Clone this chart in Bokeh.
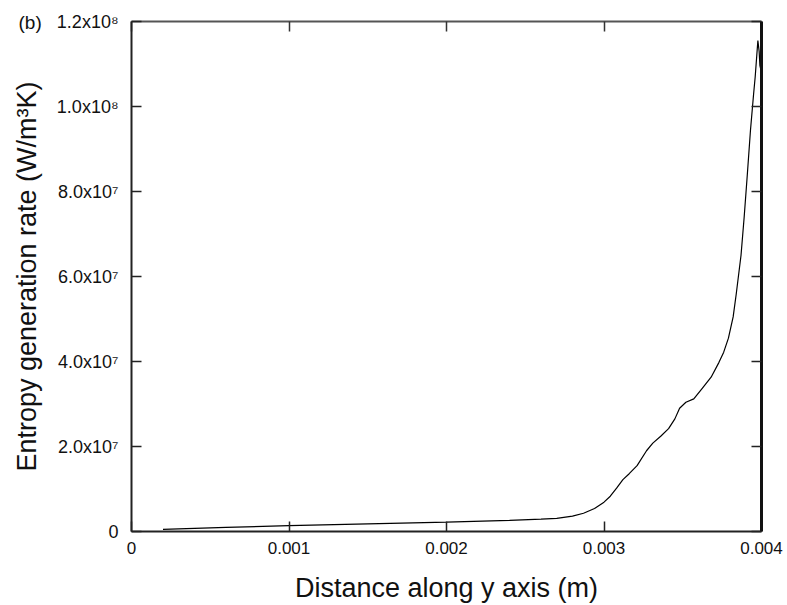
from bokeh.plotting import figure
from bokeh.models import LinearAxis, FixedTicker, Range1d, Title
from bokeh.embed import file_html
from bokeh.resources import INLINE

# Data
distance_m = [0.0002, 0.0006, 0.001, 0.0015, 0.002, 0.0024, 0.0026, 0.0027,
              0.0028, 0.00287, 0.00294, 0.0030, 0.00304, 0.00308, 0.00312,
              0.00316, 0.00321, 0.00327, 0.00331, 0.00336, 0.00341, 0.00345,
              0.00348, 0.00352, 0.00357, 0.00362, 0.00368, 0.00373, 0.00376,
              0.00379, 0.00382, 0.00384, 0.00387, 0.00389, 0.00391, 0.00393,
              0.00395, 0.00396, 0.00397, 0.003977, 0.003985, 0.00399, 0.004]
entropy_rate = [0.5e6, 0.95e6, 1.4e6, 1.8e6, 2.2e6, 2.6e6, 2.9e6, 3.1e6,
                3.6e6, 4.3e6, 5.4e6, 6.9e6, 8.3e6, 10.2e6, 12.2e6,
                13.6e6, 15.5e6, 19.0e6, 20.8e6, 22.4e6, 24.2e6, 26.5e6,
                29.0e6, 30.4e6, 31.2e6, 33.5e6, 36.3e6, 39.8e6, 42.2e6,
                45.5e6, 50.5e6, 56e6, 65e6, 74e6, 84e6, 94.4e6,
                103e6, 107e6, 112e6, 115.5e6, 113e6, 109.6e6, 108e6]

x_ticks = [0, 0.001, 0.002, 0.003, 0.004]
x_tick_labels = ["0", "0.001", "0.002", "0.003", "0.004"]
y_ticks = [0, 2e7, 4e7, 6e7, 8e7, 1e8, 1.2e8]
y_tick_labels = ["0", "2.0x10\u2077", "4.0x10\u2077", "6.0x10\u2077",
                 "8.0x10\u2077", "1.0x10\u2078", "1.2x10\u2078"]
panel_tag = "(b)"

FONT = "Liberation Sans"

p = figure(width=787, height=605, output_backend="svg", toolbar_location=None,
           x_range=Range1d(0, 0.004), y_range=Range1d(0, 1.2e8),
           x_axis_location=None, y_axis_location=None,
           min_border_left=131, min_border_right=26,
           min_border_top=21, min_border_bottom=74)
p.outline_line_color = None
p.grid.visible = False
p.background_fill_color = "white"
p.border_fill_color = "white"

p.line(distance_m, entropy_rate, line_color="black", line_width=1.2)

def style(ax):
    ax.major_tick_in = 10
    ax.major_tick_out = 0
    ax.minor_tick_line_color = None
    ax.major_tick_line_width = 1.5
    ax.major_label_text_font = FONT
    ax.major_label_text_font_size = "17px"
    ax.major_label_text_color = "#111111"
    ax.axis_label_text_font = FONT
    ax.axis_label_text_font_style = "normal"
    ax.axis_label_text_font_size = "27px"
    ax.axis_label_text_color = "#111111"

xb = LinearAxis(ticker=FixedTicker(ticks=x_ticks), axis_label="Distance along y axis (m)")
style(xb)
xb.major_label_overrides = {t: l for t, l in zip(x_ticks, x_tick_labels)}
xb.major_label_standoff = 10
xb.axis_label_standoff = 16
xb.axis_label_text_line_height = 1.0
xb.axis_line_width = 2
xb.axis_line_color = "#222222"
xb.major_tick_line_color = "#222222"
p.add_layout(xb, "below")

yl = LinearAxis(ticker=FixedTicker(ticks=y_ticks),
                axis_label="Entropy generation rate (W/m\u00b3K)")
style(yl)
yl.major_label_text_font_size = "18px"
yl.major_label_overrides = {t: l for t, l in zip(y_ticks, y_tick_labels)}
yl.major_label_standoff = 13
yl.axis_label_standoff = 12
yl.axis_line_width = 2
yl.axis_line_color = "#222222"
yl.major_tick_line_color = "#222222"
p.add_layout(yl, "left")

xt = LinearAxis(ticker=FixedTicker(ticks=x_ticks))
style(xt)
xt.major_label_overrides = {t: "" for t in x_ticks}
xt.major_label_standoff = 0
xt.axis_line_width = 2
xt.axis_line_color = "#555555"
xt.major_tick_line_color = "#333333"
p.add_layout(xt, "above")

yr = LinearAxis(ticker=FixedTicker(ticks=y_ticks))
style(yr)
yr.major_label_overrides = {t: "" for t in y_ticks}
yr.major_label_standoff = 0
yr.axis_line_width = 3
yr.axis_line_color = "#111111"
yr.major_tick_line_color = "#222222"
p.add_layout(yr, "right")

tag = Title(text=panel_tag, align="left", offset=-113, standoff=-22,
            vertical_align="bottom", text_font=FONT, text_font_size="19px",
            text_font_style="normal", text_color="#111111")
p.add_layout(tag, "above")

open("out.html", "w").write(file_html(p, INLINE))
